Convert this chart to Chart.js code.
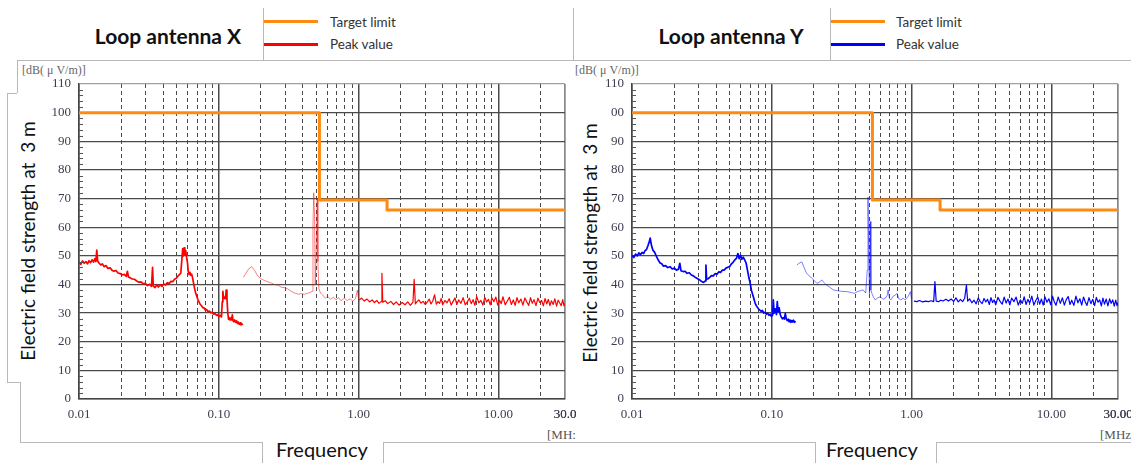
<!DOCTYPE html>
<html><head><meta charset="utf-8">
<script src="https://cdn.jsdelivr.net/npm/chart.js@4.4.1/dist/chart.umd.min.js"></script>
<style>
html,body{margin:0;padding:0;background:#fff;}
body{width:1131px;height:463px;position:relative;overflow:hidden;font-family:Lato,"Noto Sans",sans-serif;}
.hl{position:absolute;height:0;border-top:1px solid #b8b8b8;}
.vl{position:absolute;width:0;border-left:1px solid #b8b8b8;}
.title{position:absolute;font-weight:bold;font-size:21px;color:#111;white-space:nowrap;transform:translate(-50%,-50%);}
.leg{position:absolute;font-size:13.5px;color:#333;white-space:nowrap;transform:translateY(-50%);}
.legline{position:absolute;height:3px;width:54px;}
.unit{position:absolute;font-family:"Liberation Serif",serif;font-size:12px;color:#666;white-space:nowrap;transform:translateY(-50%);}
.mhz{position:absolute;font-family:"Liberation Serif",serif;font-size:13px;color:#555;white-space:nowrap;transform:translateY(-50%);}
.ylab{position:absolute;font-size:19px;color:#111;white-space:nowrap;transform:translate(-50%,-50%) rotate(-90deg);}
.xlab{position:absolute;font-size:20px;color:#111;white-space:nowrap;transform:translateY(-50%);}
canvas{position:absolute;top:0;}
</style></head><body>

<!-- header lines -->
<div class="hl" style="left:17px;top:60px;width:1114px;"></div>
<div class="vl" style="left:263px;top:8px;height:52px;"></div>
<div class="vl" style="left:573px;top:8px;height:52px;"></div>
<div class="vl" style="left:830px;top:8px;height:52px;"></div>

<!-- left y-label box (stepped) and frequency boxes -->
<div class="vl" style="left:17px;top:60px;height:33px;"></div>
<div class="hl" style="left:7px;top:93px;width:10px;"></div>
<div class="vl" style="left:7px;top:93px;height:289px;"></div>
<div class="hl" style="left:7px;top:382px;width:13px;"></div>
<div class="vl" style="left:20px;top:382px;height:60px;"></div>
<div class="hl" style="left:20px;top:442px;width:242px;"></div>
<div class="vl" style="left:262px;top:442px;height:21px;"></div>
<div class="hl" style="left:383px;top:442px;width:432px;"></div>
<div class="vl" style="left:383px;top:442px;height:21px;"></div>
<div class="vl" style="left:815px;top:442px;height:21px;"></div>
<div class="hl" style="left:936px;top:442px;width:195px;"></div>
<div class="vl" style="left:936px;top:442px;height:21px;"></div>

<!-- titles and legends -->
<div class="title" id="titleX" style="left:168px;top:35px;"></div>
<div class="legline" style="left:264px;top:20px;background:#ff8a10;"></div>
<div class="legline" style="left:264px;top:43px;background:#ff0000;"></div>
<div class="leg" style="left:330px;top:22px;">Target limit</div>
<div class="leg" style="left:330px;top:44px;">Peak value</div>

<div class="title" id="titleY" style="left:731px;top:35px;"></div>
<div class="legline" style="left:831px;top:20px;background:#ff8a10;"></div>
<div class="legline" style="left:831px;top:43px;background:#0000ff;"></div>
<div class="leg" style="left:896px;top:22px;">Target limit</div>
<div class="leg" style="left:896px;top:44px;">Peak value</div>

<div class="unit" style="left:22px;top:70px;">[dB( μ V/m)]</div>
<div class="unit" style="left:575px;top:70px;">[dB( μ V/m)]</div>

<div class="ylab" style="left:27px;top:241px;">Electric field strength at&nbsp; 3 m</div>
<div class="ylab" style="left:589px;top:243px;">Electric field strength at&nbsp; 3 m</div>

<div class="xlab" style="left:276px;top:449px;">Frequency</div>
<div class="xlab" style="left:826px;top:449px;">Frequency</div>

<div class="mhz" style="left:547px;top:435px;">[MH:</div>
<div class="mhz" style="left:1100px;top:435px;">[MHz</div>

<canvas id="cX" width="600" height="463" style="left:0px;width:600px;height:463px;"></canvas>
<canvas id="cY" width="578" height="463" style="left:553px;width:578px;height:463px;"></canvas>

<script>
// ---------- titles ----------
const chartTitles = ['Loop antenna X', 'Loop antenna Y'];

// ---------- axis ticks ----------
const xTickValues = [0.01, 0.1, 1, 10, 30];
const xTickTextX = ['0.01', '0.10', '1.00', '10.00', '30.0'];
const xTickTextY = ['0.01', '0.10', '1.00', '10.00', '30.00'];
const yTickValues = [0, 10, 20, 30, 40, 50, 60, 70, 80, 90, 100, 110];
const yTickTextX = ['0', '10', '20', '30', '40', '50', '60', '70', '80', '90', '100', '110'];
const yTickTextY = ['0', '10', '20', '30', '40', '50', '60', '70', '80', '90', '00', '110'];

// ---------- target limit (MHz, dB(uV/m)) ----------
const limitFreq  = [0.01, 0.525, 0.525, 1.6, 1.6, 30];
const limitLevel = [100, 100, 69.5, 69.5, 66, 66];

// ---------- Loop antenna X, peak value ----------
const xLowFreq = [0.0100,0.0103,0.0106,0.0109,0.0112,0.0115,0.0118,0.0121,0.0124,0.0127,0.0130,0.0132,0.0134,0.0136,0.0139,0.0143,0.0147,0.0151,0.0156,0.0161,0.0167,0.0172,0.0178,0.0184,0.0190,0.0197,0.0204,0.0211,0.0218,0.0222,0.0226,0.0233,0.0241,0.0250,0.0259,0.0268,0.0278,0.0288,0.0298,0.0309,0.0320,0.0330,0.0336,0.0340,0.0350,0.0360,0.0370,0.0380,0.0392,0.0404,0.0416,0.0428,0.0441,0.0455,0.0469,0.0483,0.0497,0.0510,0.0525,0.0535,0.0545,0.0552,0.0558,0.0565,0.0572,0.0580,0.0588,0.0596,0.0605,0.0613,0.0622,0.0631,0.0640,0.0650,0.0660,0.0670,0.0682,0.0695,0.0708,0.0722,0.0737,0.0752,0.0768,0.0785,0.0802,0.0820,0.0838,0.0857,0.0877,0.0897,0.0918,0.0940,0.0962,0.0985,0.1000,0.1020,0.1045,0.1060,0.1070,0.1080,0.1090,0.1100,0.1110,0.1120,0.1130,0.1145,0.1160,0.1175,0.1190,0.1205,0.1220,0.1235,0.1250,0.1265,0.1280,0.1300,0.1320,0.1340,0.1360,0.1380,0.1400,0.1420,0.1440,0.1460,0.1480];
const xLowPeak = [48.0,47.0,48.2,47.4,48.0,47.2,48.3,47.6,48.6,47.8,49.0,48.0,52.0,48.2,47.5,46.8,47.2,46.2,46.6,45.6,45.8,45.0,44.6,44.9,44.0,43.8,43.3,43.5,42.8,44.6,42.6,42.3,41.9,41.8,41.2,40.8,40.9,40.2,40.4,39.6,40.1,39.3,46.0,39.5,38.9,39.8,39.1,39.9,39.3,40.2,39.8,40.6,40.3,41.1,41.0,41.8,42.2,42.9,43.5,44.0,49.0,52.5,50.0,52.8,50.5,51.8,49.5,48.0,44.5,43.5,44.2,43.2,43.6,42.2,40.5,38.8,37.2,36.0,34.8,33.9,33.0,32.6,31.9,31.8,31.1,31.2,30.5,30.7,30.1,30.3,29.6,29.9,29.2,29.4,28.9,29.2,28.7,34.0,37.6,35.5,35.2,35.6,35.0,35.4,38.0,35.0,30.0,27.8,28.4,27.6,28.3,27.7,29.4,27.4,27.0,27.6,26.8,27.3,26.4,26.9,26.1,26.6,25.9,26.3,25.8];

const xMidFreq = [0.150,0.157,0.164,0.172,0.180,0.190,0.200,0.210,0.222,0.235,0.250,0.265,0.280,0.295,0.310,0.330,0.350,0.370,0.390,0.410,0.430,0.450,0.465,0.472,0.478,0.484,0.490,0.500,0.506,0.512,0.520,0.535,0.550,0.580,0.600,0.630,0.660,0.690,0.720,0.750,0.790,0.830,0.870,0.910,0.950,0.980,1.000];
const xMidPeak = [42.5,44.0,45.5,46.2,45.0,43.0,42.0,41.5,41.0,40.6,40.0,39.8,39.0,38.9,38.5,37.6,37.0,36.6,36.8,36.6,36.9,37.2,37.6,60.0,72.0,65.0,40.0,55.0,70.0,48.0,38.5,37.0,36.4,35.2,35.9,34.8,35.6,34.6,35.4,34.3,35.2,34.4,35.0,34.2,35.0,38.0,35.0];

const xHighFreq = [1.01,1.05,1.10,1.15,1.20,1.25,1.30,1.35,1.40,1.45,1.47,1.49,1.55,1.62,1.70,1.78,1.86,1.95,2.05,2.15,2.25,2.35,2.45,2.50,2.55,2.62,2.7,2.8,2.9,3.0,3.1,3.2,3.3,3.4,3.5,3.6,3.7,3.8,3.9,4.0,4.15,4.3,4.45,4.6,4.75,4.9,5.05,5.2,5.4,5.6,5.8,6.0,6.2,6.4,6.6,6.8,7.0,7.25,7.5,7.75,8.0,8.25,8.5,8.75,9.0,9.3,9.6,9.9,10.2,10.5,10.8,11.2,11.6,12.0,12.4,12.8,13.2,13.6,14.0,14.5,15.0,15.5,16.0,16.5,17.0,17.5,18.0,18.6,19.2,19.8,20.4,21.0,21.6,22.2,22.8,23.4,24.0,24.7,25.4,26.1,26.8,27.5,28.2,28.9,29.5,30.0];
const xHighPeak = [34.6,35.2,34.2,34.9,33.9,34.6,33.7,34.4,33.4,34.0,43.9,33.8,34.3,33.3,34.1,33.0,33.9,32.8,33.7,32.9,33.9,32.7,33.8,41.8,33.2,34.0,
  34.6,33.5,34.1,33.0,33.8,34.9,33.2,34.3,36.4,33.1,34.0,33.4,35.1,32.9,34.4,33.6,35.0,32.8,34.1,35.3,33.0,34.6,33.4,35.4,32.9,33.9,35.2,33.3,34.7,32.7,35.8,33.6,34.4,32.8,35.5,33.9,34.8,32.9,35.3,34.0,35.6,32.8,34.5,33.3,35.7,32.9,34.2,35.5,33.0,34.6,32.7,35.4,33.6,34.9,32.8,35.3,33.9,32.7,35.4,33.4,34.7,32.6,35.2,33.7,34.4,32.5,35.1,33.2,34.8,32.6,34.3,33.0,35.0,32.4,34.5,33.5,32.6,34.7,32.5,33.4];

// ---------- Loop antenna Y, peak value ----------
const yLowFreq = [0.0100,0.0103,0.0106,0.0109,0.0112,0.0115,0.0118,0.0121,0.0124,0.0127,0.0130,0.0133,0.0135,0.0138,0.0141,0.0145,0.0149,0.0153,0.0158,0.0163,0.0168,0.0174,0.0180,0.0187,0.0194,0.0201,0.0208,0.0215,0.0220,0.0224,0.0232,0.0240,0.0248,0.0257,0.0266,0.0275,0.0285,0.0295,0.0305,0.0315,0.0325,0.0333,0.0338,0.0342,0.0350,0.0360,0.0370,0.0382,0.0394,0.0406,0.0418,0.0430,0.0443,0.0456,0.0470,0.0485,0.0500,0.0515,0.0530,0.0545,0.0560,0.0572,0.0585,0.0598,0.0610,0.0625,0.0640,0.0655,0.0670,0.0685,0.0700,0.0715,0.0730,0.0745,0.0760,0.0775,0.0790,0.0805,0.0822,0.0840,0.0858,0.0876,0.0895,0.0915,0.0935,0.0955,0.0975,0.0995,0.1015,0.1025,0.1040,0.1060,0.1080,0.1095,0.1110,0.1130,0.1150,0.1170,0.1190,0.1210,0.1230,0.1250,0.1270,0.1290,0.1310,0.1330,0.1350,0.1370,0.1390,0.1410,0.1430,0.1450,0.1480];
const yLowPeak = [50.2,49.4,50.6,50.0,51.0,50.4,51.2,50.8,51.8,52.2,53.5,55.0,56.2,53.5,52.0,51.3,50.0,48.8,47.6,47.2,46.4,46.6,45.9,46.2,45.4,45.7,45.0,45.3,47.4,44.8,44.5,44.6,43.9,44.1,43.3,43.0,42.4,42.0,41.6,41.0,40.7,41.2,46.8,41.8,42.0,42.5,43.1,43.0,43.8,43.6,44.4,44.2,45.0,45.0,45.7,46.0,46.3,47.2,47.8,48.6,49.2,50.8,49.0,50.2,48.8,49.5,48.6,47.5,45.0,42.5,40.5,38.0,36.5,35.0,33.5,32.6,32.0,31.4,31.0,30.6,30.9,30.0,30.3,29.6,30.0,29.2,29.6,28.8,29.4,34.6,30.0,31.5,29.5,34.0,30.5,31.8,29.5,28.6,28.0,28.4,27.9,29.9,28.0,27.4,27.9,27.0,27.6,26.8,27.4,26.9,27.5,26.8,27.2];

const yMidFreq = [0.151,0.157,0.164,0.170,0.177,0.185,0.193,0.200,0.210,0.220,0.228,0.237,0.246,0.260,0.276,0.295,0.315,0.345,0.370,0.390,0.410,0.430,0.450,0.470,0.482,0.488,0.494,0.500,0.506,0.512,0.520,0.535,0.550,0.575,0.600,0.625,0.650,0.668,0.680,0.695,0.715,0.735,0.760,0.790,0.810,0.840,0.870,0.900,0.930,0.960,0.980,1.000];
const yMidPeak = [46.8,47.4,47.9,46.0,44.0,43.0,42.3,41.5,40.4,40.8,41.6,40.6,39.8,39.0,38.1,37.8,37.6,37.5,37.2,36.9,37.5,37.8,38.1,37.0,45.0,70.5,50.0,36.8,62.0,38.0,36.9,35.5,34.6,35.4,35.7,34.8,35.3,36.0,38.1,35.0,34.7,35.8,36.2,36.9,35.0,34.6,35.2,34.6,35.4,36.4,37.5,35.0];

const yHighFreq = [1.04,1.09,1.14,1.20,1.26,1.32,1.38,1.44,1.47,1.50,1.56,1.62,1.68,1.76,1.84,1.92,2.00,2.08,2.16,2.24,2.32,2.40,2.47,2.52,2.6,2.7,2.8,2.9,3.0,3.1,3.2,3.3,3.4,3.5,3.6,3.7,3.8,3.9,4.0,4.15,4.3,4.45,4.6,4.75,4.9,5.05,5.2,5.4,5.6,5.8,6.0,6.2,6.4,6.6,6.8,7.0,7.25,7.5,7.75,8.0,8.25,8.5,8.75,9.0,9.3,9.6,9.9,10.2,10.5,10.8,11.2,11.6,12.0,12.4,12.8,13.2,13.6,14.0,14.5,15.0,15.5,16.0,16.5,17.0,17.5,18.0,18.6,19.2,19.8,20.4,21.0,21.6,22.2,22.8,23.4,24.0,24.7,25.4,26.1,26.8,27.5,28.2,28.9,29.5,30.0];
const yHighPeak = [34.2,34.0,34.4,33.9,34.2,34.0,34.3,34.0,41.0,34.2,34.0,34.5,34.2,34.8,34.2,34.9,34.1,35.3,33.9,34.8,34.0,35.2,39.8,34.2,
  35.0,33.6,34.5,33.2,35.3,34.0,33.3,35.1,33.9,34.8,33.0,35.4,33.7,34.6,32.9,35.5,34.1,33.1,35.6,33.5,34.9,32.9,35.2,34.0,35.6,32.8,34.6,33.4,35.7,33.0,34.8,33.5,35.9,32.8,34.4,35.6,33.1,34.9,32.8,35.7,33.8,35.0,32.9,35.9,34.0,32.7,35.6,33.4,35.3,32.8,34.7,35.8,33.0,34.5,32.7,35.9,33.6,35.0,32.8,35.6,33.9,32.7,35.4,33.3,34.8,32.6,35.5,33.8,34.6,32.5,35.2,33.1,34.9,32.5,35.0,33.4,34.6,32.4,34.5,32.6,33.6];

// ---------- helpers ----------
document.getElementById('titleX').textContent = chartTitles[0];
document.getElementById('titleY').textContent = chartTitles[1];

function pts(f, v) { return f.map((x, i) => ({x: x, y: v[i]})); }
function near(a, b) { return Math.abs(Math.log10(a) - Math.log10(b)) < 1e-6; }
function isDecade(v) { const l = Math.log10(v); return Math.abs(l - Math.round(l)) < 1e-6; }

// vertical grid positions: 1..9 x each decade, up to the 30 MHz edge
const gridFreqs = [];
[0.01, 0.1, 1, 10].forEach(d => { for (let m = 1; m <= 9; m++) { const v = +(d * m).toPrecision(6); if (v <= 30) gridFreqs.push(v); } });

const minorTicks = {
  id: 'minorTicks',
  afterDraw(chart) {
    const ys = chart.scales.y, ctx = chart.ctx, x0 = chart.chartArea.left;
    ctx.save();
    ctx.strokeStyle = '#555'; ctx.lineWidth = 1;
    for (let v = ys.min; v <= ys.max; v += 2) {
      if (v % 10 === 0) continue;
      const py = Math.round(ys.getPixelForValue(v)) + 0.5;
      ctx.beginPath(); ctx.moveTo(x0, py); ctx.lineTo(x0 + 4, py); ctx.stroke();
    }
    ctx.restore();
  }
};

function makeChart(id, color, low, mid, high, xText, yText, padRight) {
  const tickFont = {family: '"Liberation Serif", serif', size: 13};
  return new Chart(document.getElementById(id), {
    type: 'line',
    data: {
      datasets: [
        {label: 'Target limit', data: pts(limitFreq, limitLevel), borderColor: '#ff8a10', borderWidth: 3},
        {label: 'Peak value', data: pts(low[0], low[1]), borderColor: color, borderWidth: 1.7},
        {label: 'Peak value (mid)', data: pts(mid[0], mid[1]), borderColor: color.replace('1)', '0.5)'), borderWidth: 1},
        {label: 'Peak value (high)', data: pts(high[0], high[1]), borderColor: color, borderWidth: 1.2}
      ]
    },
    options: {
      responsive: false, animation: false,
      layout: {padding: {top: 84, left: 0, right: padRight, bottom: 34}},
      plugins: {legend: {display: false}, tooltip: {enabled: false}},
      elements: {point: {radius: 0}, line: {tension: 0, borderJoinStyle: 'round'}},
      scales: {
        x: {
          type: 'logarithmic', min: 0.01, max: 30,
          afterBuildTicks: s => { s.ticks = gridFreqs.concat([30]).map(v => ({value: v})); },
          afterFit: s => { s.height = 30; s.paddingLeft = 0; s.paddingRight = 0; },
          ticks: {
            autoSkip: false, maxRotation: 0, minRotation: 0, padding: 8,
            font: tickFont, color: '#3c3c50',
            callback: v => { const i = xTickValues.findIndex(t => near(t, v)); return i >= 0 ? xText[i] : ''; }
          },
          grid: {
            drawTicks: false,
            color: c => (c.tick && near(c.tick.value, 30)) ? '#8a8a8a' : '#4a4a4a',
            lineWidth: c => (c.tick && (isDecade(c.tick.value) || near(c.tick.value, 30))) ? 1.5 : 1
          },
          border: {
            display: true, color: '#444', width: 1.5,
            dash: c => (c.tick && !isDecade(c.tick.value) && !near(c.tick.value, 30)) ? [4, 3] : []
          }
        },
        y: {
          type: 'linear', min: 0, max: 110,
          afterFit: s => { s.width = 79; s.paddingTop = 0; s.paddingBottom = 0; },
          ticks: {
            stepSize: 10, padding: 8, font: tickFont, color: '#3c3c50',
            callback: v => { const i = yTickValues.indexOf(v); return i >= 0 ? yText[i] : ''; }
          },
          grid: {
            drawTicks: false,
            color: c => (c.tick && c.tick.value === 110) ? '#a0a0a0' : '#4a4a4a',
            lineWidth: 1.2
          },
          border: {display: true, color: '#444', width: 1.5}
        }
      }
    },
    plugins: [minorTicks]
  });
}

makeChart('cX', 'rgba(255,0,0,1)', [xLowFreq, xLowPeak], [xMidFreq, xMidPeak], [xHighFreq, xHighPeak], xTickTextX, yTickTextX, 35);
makeChart('cY', 'rgba(0,0,255,1)', [yLowFreq, yLowPeak], [yMidFreq, yMidPeak], [yHighFreq, yHighPeak], xTickTextY, yTickTextY, 13);
</script>
</body></html>
